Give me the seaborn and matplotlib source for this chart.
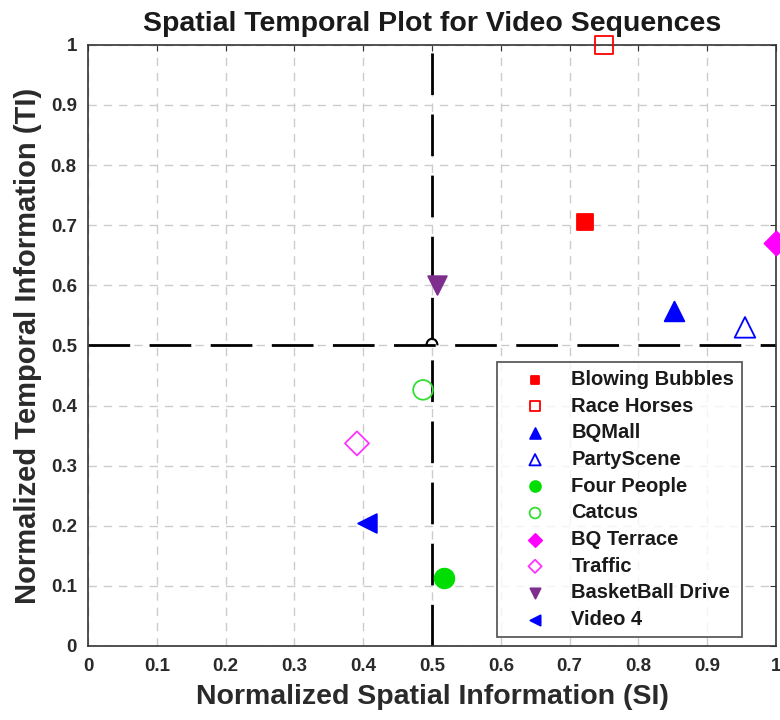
import matplotlib
matplotlib.use("Agg")
import matplotlib.pyplot as plt
from matplotlib.patches import Arc
import seaborn as sns
import pandas as pd

sequences = ["Blowing Bubbles", "Race Horses", "BQMall", "PartyScene", "Four People",
             "Catcus", "BQ Terrace", "Traffic", "BasketBall Drive", "Video 4"]
si = [0.722, 0.750, 0.852, 0.955, 0.517, 0.487, 1.000, 0.391, 0.507, 0.405]
ti = [0.705, 1.000, 0.557, 0.530, 0.113, 0.426, 0.670, 0.337, 0.600, 0.204]
markers = ["s", "s", "^", "^", "o", "o", "D", "D", "v", "<"]
colors = ["#ff0000", "#ff0000", "#0000ff", "#0000ff", "#00dd00",
          "#33dd33", "#ff00ff", "#ff33ff", "#7e2f8e", "#0000ff"]
filled = [True, False, True, False, True, False, True, False, True, True]
sizes = [130, 170, 200, 220, 200, 200, 150, 150, 180, 180]

ticks = [0, 0.1, 0.2, 0.3, 0.4, 0.5, 0.6, 0.7, 0.8, 0.9, 1]
tick_labels = ["0", "0.1", "0.2", "0.3", "0.4", "0.5", "0.6", "0.7", "0.8", "0.9", "1"]

df = pd.DataFrame({"SI": si, "TI": ti, "Sequence": sequences})

sns.set_theme(style="white")
plt.rcParams["font.family"] = ["Liberation Sans", "DejaVu Sans"]

fig = plt.figure(figsize=(7.8, 7.2), dpi=100)
ax = fig.add_axes([0.1128, 0.1028, 0.882, 0.835])

# quadrant divider lines, with a small jump where they cross
ax.axvline(0.5, ymax=0.49, color="black", lw=2, dashes=(15, 7), zorder=2)
ax.axvline(0.5, ymin=0.51, color="black", lw=2, dashes=(15, 7), zorder=2)
ax.axhline(0.5, color="black", lw=2, dashes=(15, 7), zorder=2)
ax.add_patch(Arc((0.5, 0.5), 0.016, 0.022, theta1=0, theta2=180,
                 color="black", lw=1.5, zorder=2))

for i, row in df.iterrows():
    face = colors[i] if filled[i] else "none"
    sns.scatterplot(x=[row.SI], y=[row.TI], ax=ax, marker=markers[i], s=sizes[i],
                    facecolor=face, edgecolor=colors[i], linewidth=1.3,
                    label=row.Sequence, clip_on=False, zorder=3)

ax.set_xlim(0, 1)
ax.set_ylim(0, 1)
ax.set_xticks(ticks)
ax.set_xticklabels(tick_labels)
ax.set_yticks(ticks)
ax.set_yticklabels(tick_labels)
ax.tick_params(axis="both", labelsize=13.5, direction="in", length=4, width=0.8,
               colors="#333333", top=True, right=True)
ax.tick_params(axis="x", pad=9)
ax.tick_params(axis="y", pad=8)
for lab in ax.get_xticklabels() + ax.get_yticklabels():
    lab.set_fontweight("bold")
    lab.set_color("#2a2a2a")

ax.grid(True, color="#cccccc", linestyle=(0, (6, 5)), linewidth=1)
ax.set_axisbelow(True)
for sp in ax.spines.values():
    sp.set_color("#333333")
    sp.set_linewidth(1.2)

ax.set_title("Spatial Temporal Plot for Video Sequences", fontsize=20.5,
             fontweight="bold", color="#1a1a1a", pad=10)
ax.set_xlabel("Normalized Spatial Information (SI)", fontsize=20.5,
              fontweight="bold", color="#2a2a2a", labelpad=6)
ax.set_ylabel("Normalized Temporal Information (TI)", fontsize=21,
              fontweight="bold", color="#2a2a2a", labelpad=6)

leg = ax.legend(loc="lower right", bbox_to_anchor=(0.951, 0.015), fontsize=14.5,
                frameon=True, fancybox=False, edgecolor="#333333",
                borderpad=0.4, labelspacing=0.38, handlelength=3.0,
                handletextpad=0.3, markerscale=0.55, borderaxespad=0)
leg.get_frame().set_linewidth(1.3)
for t in leg.get_texts():
    t.set_fontweight("bold")
    t.set_color("#1a1a1a")

fig.savefig("out.png", dpi=100)
